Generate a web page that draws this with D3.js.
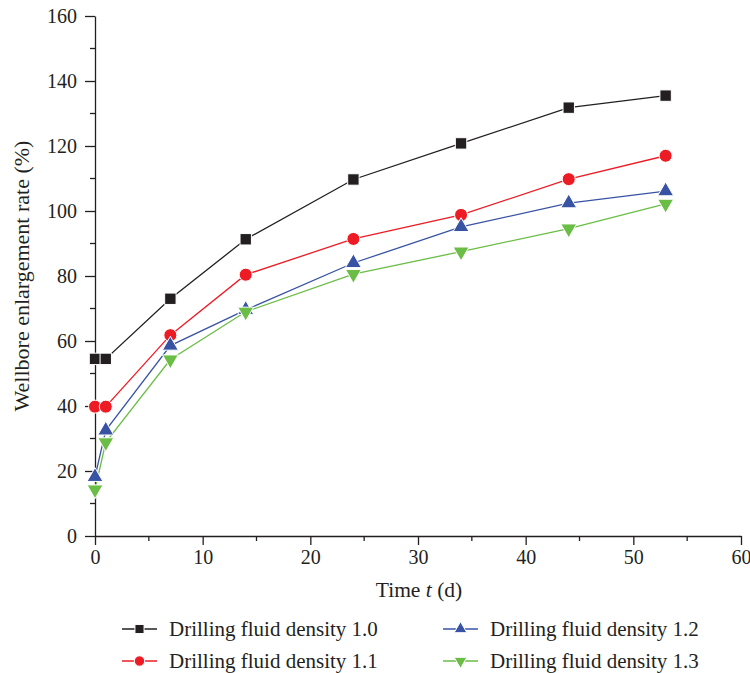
<!DOCTYPE html>
<html>
<head>
<meta charset="utf-8">
<script src="https://cdn.jsdelivr.net/npm/d3@7"></script>
<style>
body { margin: 0; background: #fff; }
svg text { font-family: "Liberation Serif", "DejaVu Serif", serif; fill: #231f20; }
</style>
</head>
<body>
<div id="chart"></div>
<script>
// time in days
var days = [0, 1, 7, 14, 24, 34, 44, 53];
var density10 = [54.5, 54.5, 73, 91.3, 109.7, 120.8, 131.8, 135.5];
var density11 = [39.8, 39.8, 61.8, 80.4, 91.4, 98.8, 109.8, 117];
var density12 = [18.2, 32.5, 58.6, 69.6, 84, 95.1, 102.4, 106.1];
var density13 = [14.3, 28.8, 54.3, 69, 80.6, 87.5, 94.6, 102.2];
var seriesNames = ["Drilling fluid density 1.0", "Drilling fluid density 1.1",
	"Drilling fluid density 1.2", "Drilling fluid density 1.3"];
var xTicks = [0, 10, 20, 30, 40, 50, 60];
var yTicks = [0, 20, 40, 60, 80, 100, 120, 140, 160];

var width = 750, height = 673;
var margin = {left: 95, top: 16, right: 9, bottom: 137};

var series = [
	{name: seriesNames[0], values: density10, color: "#231f20", shape: "square"},
	{name: seriesNames[1], values: density11, color: "#ed1c24", shape: "circle"},
	{name: seriesNames[2], values: density12, color: "#3953a4", shape: "up"},
	{name: seriesNames[3], values: density13, color: "#6abd45", shape: "down"}
];

var svg = d3.select("#chart").append("svg")
	.attr("width", width)
	.attr("height", height);

var x = d3.scaleLinear().domain([0, 60]).range([margin.left, width - margin.right]);
var y = d3.scaleLinear().domain([0, 160]).range([height - margin.bottom, margin.top]);

// axes
var xAxis = svg.append("g")
	.attr("transform", "translate(0," + y(0) + ")")
	.call(d3.axisBottom(x).tickValues(xTicks).tickSize(9).tickPadding(5).tickSizeOuter(0));
xAxis.append("g").selectAll("line")
	.data(d3.range(5, 60, 10))
	.enter().append("line")
	.attr("x1", d => x(d)).attr("x2", d => x(d))
	.attr("y1", 0).attr("y2", 5)
	.attr("stroke", "#231f20");

var yAxis = svg.append("g")
	.attr("transform", "translate(" + x(0) + ",0)")
	.call(d3.axisLeft(y).tickValues(yTicks).tickSize(10).tickPadding(8).tickSizeOuter(0));
yAxis.append("g").selectAll("line")
	.data(d3.range(10, 160, 20))
	.enter().append("line")
	.attr("y1", d => y(d)).attr("y2", d => y(d))
	.attr("x1", 0).attr("x2", -5)
	.attr("stroke", "#231f20");

svg.selectAll(".domain, .tick line, g > line").attr("stroke", "#231f20").attr("stroke-width", 1.3);
svg.selectAll(".tick text").style("font-size", "20px").style("font-family", "Liberation Serif, serif").attr("fill", "#231f20");

// axis titles
var xt = svg.append("text")
	.attr("x", 419)
	.attr("y", 597)
	.attr("text-anchor", "middle")
	.style("font-size", "21.5px");
xt.append("tspan").text("Time ");
xt.append("tspan").style("font-style", "italic").text("t");
xt.append("tspan").text(" (d)");

svg.append("text")
	.attr("transform", "translate(29," + y(80) + ") rotate(-90)")
	.attr("text-anchor", "middle")
	.style("font-size", "22px")
	.text("Wellbore enlargement rate (%)");

function marker(sel, shape, color, k) {
	if (shape === "circle") {
		sel.append("circle").attr("r", 6.5 * k).attr("fill", color)
			.attr("stroke", "#fff").attr("stroke-width", 1);
	} else {
		var sym = shape === "square" ? d3.symbolSquare : d3.symbolTriangle;
		var size = (shape === "square" ? 130 : 110) * k * k;
		sel.append("path")
			.attr("d", d3.symbol().type(sym).size(size))
			.attr("transform", shape === "down" ? "rotate(180)" : null)
			.attr("fill", color)
			.attr("stroke", "#fff").attr("stroke-width", 1);
	}
}

var line = d3.line()
	.x((d, i) => x(days[i]))
	.y(d => y(d));

series.forEach(s => {
	svg.append("path")
		.datum(s.values)
		.attr("d", line)
		.attr("fill", "none")
		.attr("stroke", s.color)
		.attr("stroke-width", 1.3);
});

series.forEach(s => {
	var g = svg.append("g");
	s.values.forEach((v, i) => {
		var m = g.append("g").attr("transform", "translate(" + x(days[i]) + "," + y(v) + ")");
		marker(m, s.shape, s.color, 1);
	});
});

// legend
var legendPos = [[122, 629], [122, 661], [443, 629], [443, 661]];
series.forEach((s, i) => {
	var lg = svg.append("g")
		.attr("transform", "translate(" + legendPos[i][0] + "," + legendPos[i][1] + ")");
	lg.append("line").attr("x1", 0).attr("x2", 35).attr("y1", 0).attr("y2", 0)
		.attr("stroke", s.color).attr("stroke-width", 1.3);
	var m = lg.append("g").attr("transform", "translate(17.5,0)");
	marker(m, s.shape, s.color, 0.8);
	lg.append("text").attr("x", 47).attr("y", 7)
		.style("font-size", "21px")
		.text(s.name);
});
</script>
</body>
</html>
